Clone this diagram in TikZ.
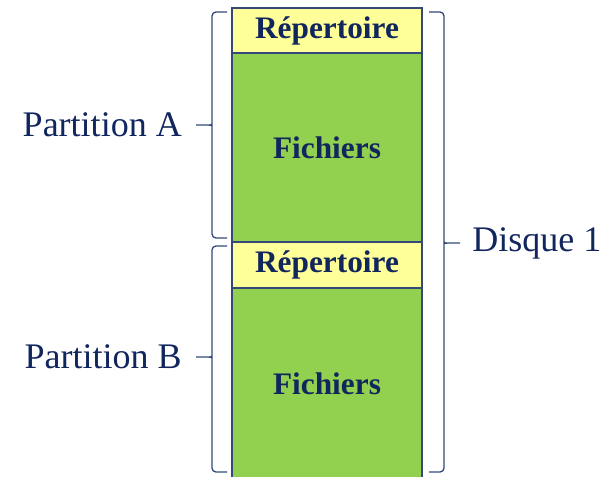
\documentclass[tikz,border=0pt]{standalone}
\usepackage{fontspec}
\setmainfont{Liberation Serif}
\usetikzlibrary{calc}
\definecolor{navy}{HTML}{12265E}
\definecolor{edge}{HTML}{34497A}
\definecolor{repfill}{HTML}{FFFF99}
\definecolor{fichfill}{HTML}{92D050}

\begin{document}
\begin{tikzpicture}[
    x=0.75pt, y=0.75pt,
    block/.style={draw=edge, line width=0.9pt, minimum width=142.5pt,
                  inner sep=0pt, text=navy,
                  font=\fontsize{23.5}{28}\selectfont\bfseries},
    rep/.style={block, fill=repfill},
    fich/.style={block, fill=fichfill},
    bracket/.style={draw=edge, line width=1pt, rounded corners=3pt},
    label/.style={text=navy, inner sep=0pt,
                  font=\fontsize{27}{32}\selectfont},
]
\useasboundingbox (0,0) rectangle (615,476);

% =====================================================================
% disk layout: two partitions, each a directory then its files
% =====================================================================
\node[rep,  minimum height=33.75pt] (repa)  at (327,445.5) {Répertoire};
\node[fich, minimum height=141.75pt] (ficha) at (327,328.5) {Fichiers};
\node[rep,  minimum height=34.5pt]  (repb)  at (327,211)   {Répertoire};
\node[fich, minimum height=144pt]   (fichb) at (327,92)    {Fichiers};

% partition brackets on the left
\draw[bracket] (227,464) -- (212,464) -- (212,354) to[out=-90,in=0] (207,351)
    -- (196,351) coordinate (tipa)
    (207,351) to[out=0,in=90] (212,348) -- (212,238) -- (227,238);
\draw[bracket] (227,230) -- (212,230) -- (212,122) to[out=-90,in=0] (207,119)
    -- (196,119) coordinate (tipb)
    (207,119) to[out=0,in=90] (212,116) -- (212,4) -- (227,4);
\node[label, anchor=east, xshift=-10.5pt] (parta) at (tipa) {Partition A};
\node[label, anchor=east, xshift=-10.5pt] (partb) at (tipb) {Partition B};

% whole disk on the right
\draw[bracket] (429,464) -- (444,464) -- (444,236) to[out=-90,in=180] (449,233)
    -- (460,233) coordinate (tipd)
    (449,233) to[out=180,in=90] (444,230) -- (444,4) -- (429,4);
\node[label, anchor=west, xshift=9pt] (disque) at (tipd) {Disque 1};

\end{tikzpicture}
\end{document}
